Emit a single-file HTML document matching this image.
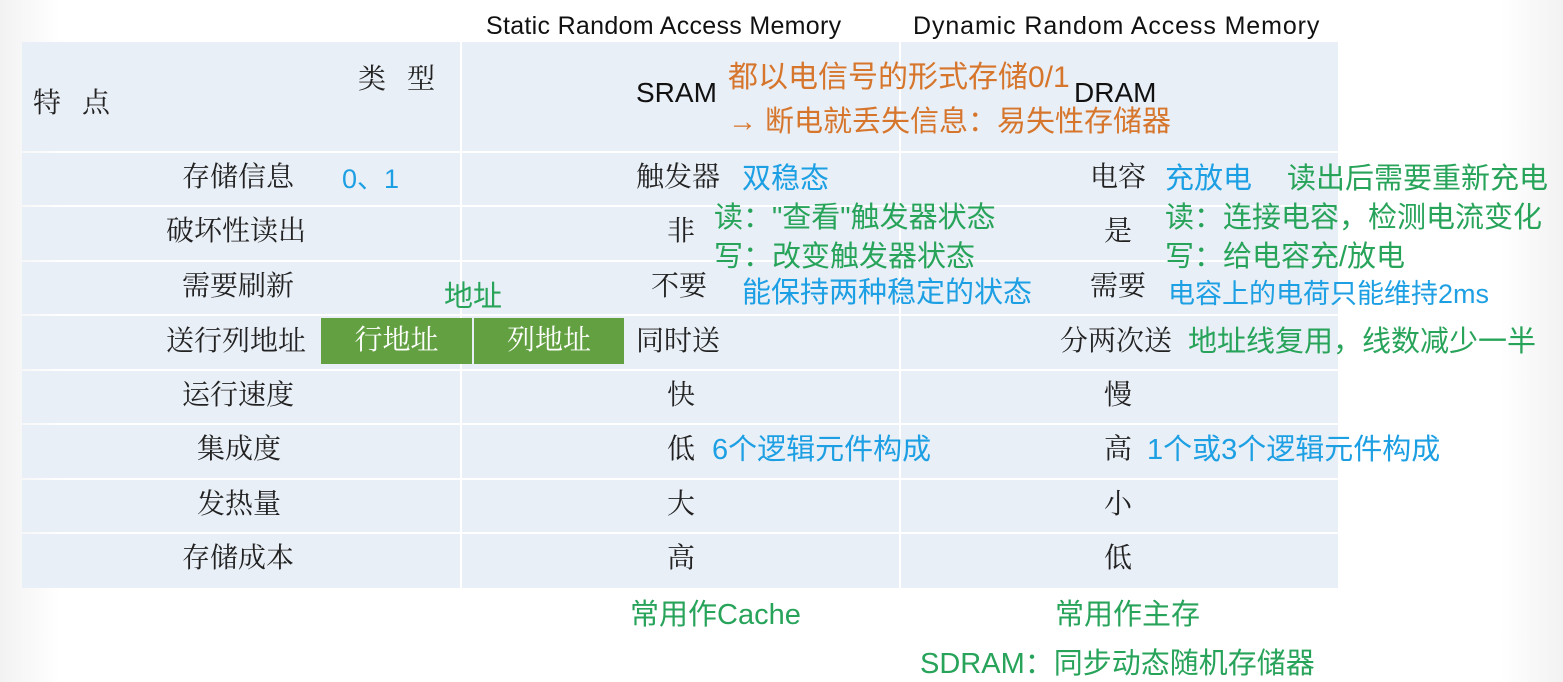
<!DOCTYPE html>
<html><head><meta charset="utf-8"><style>
body{margin:0;width:1563px;height:682px;position:relative;overflow:hidden;background:#fff;font-family:"Liberation Sans","Noto Sans CJK SC",sans-serif}
.bg{position:absolute;left:0;top:0;width:1563px;height:682px;background:linear-gradient(90deg,#f2f2f2 0,#fff 60px,#fff 1500px,#f2f2f2 100%)}
.r{position:absolute;left:22px;width:1316px;background:#e9eff7}
.v{position:absolute;top:42px;height:546px;width:2px;background:#fff}
.t{position:absolute;line-height:1;white-space:nowrap;font-size:28px}
.s{font-family:"Liberation Serif","Noto Serif CJK SC",serif;color:#222}
.o{color:#d6762c}.b{color:#1c9fe3}.g{color:#27a35a}
.o,.b,.g{font-size:29px}
.box{position:absolute;top:318px;height:46px;background:#62a042;color:#fff;font-size:28px;line-height:46px;text-align:center;font-family:"Liberation Serif","Noto Serif CJK SC",serif}
</style></head><body>
<div class="bg"></div>
<div class="r" style="top:42px;height:109px"></div>
<div class="r" style="top:153px;height:52px"></div>
<div class="r" style="top:207px;height:53px"></div>
<div class="r" style="top:262px;height:52px"></div>
<div class="r" style="top:316px;height:53px"></div>
<div class="r" style="top:371px;height:52px"></div>
<div class="r" style="top:425px;height:53px"></div>
<div class="r" style="top:480px;height:52px"></div>
<div class="r" style="top:534px;height:54px"></div>
<div class="v" style="left:460px"></div>
<div class="v" style="left:899px"></div>

<div class="t" style="left:486px;top:14px;font-size:25px;color:#111;letter-spacing:0.3px">Static Random Access Memory</div>
<div class="t" style="left:913px;top:14px;font-size:25px;color:#111;letter-spacing:0.9px">Dynamic Random Access Memory</div>
<div class="t s" style="left:33px;top:90px">特&nbsp;&nbsp;&nbsp;点</div>
<div class="t s" style="left:358px;top:66px">类&nbsp;&nbsp;&nbsp;型</div>
<div class="t" style="left:636px;top:79px;color:#111">SRAM</div>
<div class="t" style="left:1074px;top:79px;color:#111">DRAM</div>
<div class="t o" style="left:728px;top:63px;font-size:30px">都以电信号的形式存储0/1</div>
<div class="t o" style="left:728px;top:108px"><b>→</b> 断电就丢失信息：易失性存储器</div>

<div class="t s" style="left:182px;top:164px">存储信息</div>
<div class="t b" style="left:342px;top:166px;font-size:27px">0、1</div>
<div class="t s" style="left:636px;top:164px">触发器</div>
<div class="t b" style="left:742px;top:165px">双稳态</div>
<div class="t s" style="left:1090px;top:164px">电容</div>
<div class="t b" style="left:1165px;top:165px">充放电</div>
<div class="t g" style="left:1287px;top:165px">读出后需要重新充电</div>

<div class="t s" style="left:166px;top:218px">破坏性读出</div>
<div class="t s" style="left:667px;top:218px">非</div>
<div class="t g" style="left:714px;top:204px">读："查看"触发器状态</div>
<div class="t g" style="left:714px;top:243px">写：改变触发器状态</div>
<div class="t s" style="left:1104px;top:218px">是</div>
<div class="t g" style="left:1165px;top:204px">读：连接电容，检测电流变化</div>
<div class="t g" style="left:1165px;top:243px">写：给电容充/放电</div>

<div class="t s" style="left:182px;top:273px">需要刷新</div>
<div class="t g" style="left:444px;top:283px">地址</div>
<div class="t s" style="left:651px;top:273px">不要</div>
<div class="t b" style="left:742px;top:279px">能保持两种稳定的状态</div>
<div class="t s" style="left:1090px;top:273px">需要</div>
<div class="t b" style="left:1168px;top:281px;font-size:27px">电容上的电荷只能维持2ms</div>

<div class="t s" style="left:166px;top:328px">送行列地址</div>
<div class="box" style="left:321px;width:151px">行地址</div>
<div class="box" style="left:474px;width:150px">列地址</div>
<div class="t s" style="left:636px;top:328px">同时送</div>
<div class="t s" style="left:1060px;top:328px">分两次送</div>
<div class="t g" style="left:1188px;top:328px">地址线复用，线数减少一半</div>

<div class="t s" style="left:182px;top:382px">运行速度</div>
<div class="t s" style="left:667px;top:382px">快</div>
<div class="t s" style="left:1104px;top:382px">慢</div>

<div class="t s" style="left:197px;top:436px">集成度</div>
<div class="t s" style="left:667px;top:436px">低</div>
<div class="t b" style="left:712px;top:436px">6个逻辑元件构成</div>
<div class="t s" style="left:1104px;top:436px">高</div>
<div class="t b" style="left:1147px;top:436px">1个或3个逻辑元件构成</div>

<div class="t s" style="left:197px;top:491px">发热量</div>
<div class="t s" style="left:667px;top:491px">大</div>
<div class="t s" style="left:1104px;top:491px">小</div>

<div class="t s" style="left:182px;top:545px">存储成本</div>
<div class="t s" style="left:667px;top:545px">高</div>
<div class="t s" style="left:1104px;top:545px">低</div>

<div class="t g" style="left:630px;top:601px">常用作Cache</div>
<div class="t g" style="left:1055px;top:601px">常用作主存</div>
<div class="t g" style="left:920px;top:650px">SDRAM：同步动态随机存储器</div>
</body></html>
